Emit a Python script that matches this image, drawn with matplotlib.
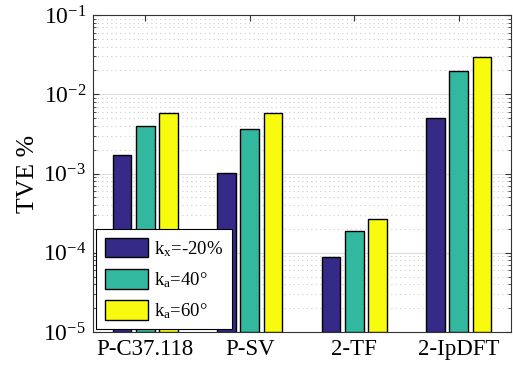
import matplotlib
matplotlib.use("Agg")
import matplotlib.pyplot as plt
import numpy as np

plt.rcParams['font.family'] = ['Liberation Serif', 'DejaVu Serif']
plt.rcParams['mathtext.fontset'] = 'custom'
plt.rcParams['mathtext.rm'] = 'Liberation Serif'
plt.rcParams['mathtext.it'] = 'Liberation Serif:italic'

methods = ['P-C37.118', 'P-SV', '2-TF', '2-IpDFT']
series_labels = [r'k$_\mathrm{x}$=-20%', r'k$_\mathrm{a}$=40°', r'k$_\mathrm{a}$=60°']
kx_20 = [1.71e-3, 1.0e-3, 7.9e-5, 4.97e-3]
ka_40 = [3.94e-3, 3.6e-3, 1.79e-4, 1.95e-2]
ka_60 = [5.75e-3, 5.87e-3, 2.6e-4, 2.92e-2]
colors = ['#352A87', '#33B8A0', '#F9FB0E']

fig = plt.figure(figsize=(5.13, 3.7), dpi=100)
ax = fig.add_axes([93/513, 1-332/370, 418/513, 317/370])

x = np.arange(1, len(methods)+1)
offs = [-0.223, 0, 0.223]
for vals, off, c, lab in zip([kx_20, ka_40, ka_60], offs, colors, series_labels):
    ax.bar(x+off, vals, width=0.18, bottom=1e-5, color=c, edgecolor='black', linewidth=1.0, label=lab, zorder=3)

ax.set_yscale('log')
ax.set_ylim(1e-5, 1e-1)
ax.set_xlim(0.5, 4.5)
ax.set_xticks(x)
ax.set_xticklabels(methods, fontsize=16.5)
ax.set_yticks([1e-5, 1e-4, 1e-3, 1e-2, 1e-1])
ax.set_yticklabels([r'10$^{-5}$', r'10$^{-4}$', r'10$^{-3}$', r'10$^{-2}$', r'10$^{-1}$'], fontsize=17)
ax.set_ylabel('TVE %', fontsize=18.5, labelpad=3)
ax.tick_params(axis='both', which='both', direction='in', top=True, right=True, color='#333333')
ax.tick_params(axis='both', which='major', length=4, pad=5)
ax.tick_params(axis='y', which='minor', length=2)
ax.grid(True, which='major', axis='y', color='#dddddd', linewidth=0.8, zorder=0)
ax.grid(True, which='minor', axis='y', color='#cccccc', linestyle=(0, (1, 3)), linewidth=0.8, zorder=0)
ax.set_axisbelow(True)
for s in ax.spines.values():
    s.set_color('#333333')
    s.set_linewidth(0.8)

leg = ax.legend(loc='lower left', bbox_to_anchor=(0.008, 0.008), fontsize=13.5, frameon=True,
                fancybox=False, edgecolor='black', framealpha=1, handlelength=2.3, handleheight=1.25,
                borderpad=0.45, labelspacing=0.55, handletextpad=0.35, borderaxespad=0)
leg.get_frame().set_linewidth(0.8)

fig.savefig('out.png', dpi=100)
